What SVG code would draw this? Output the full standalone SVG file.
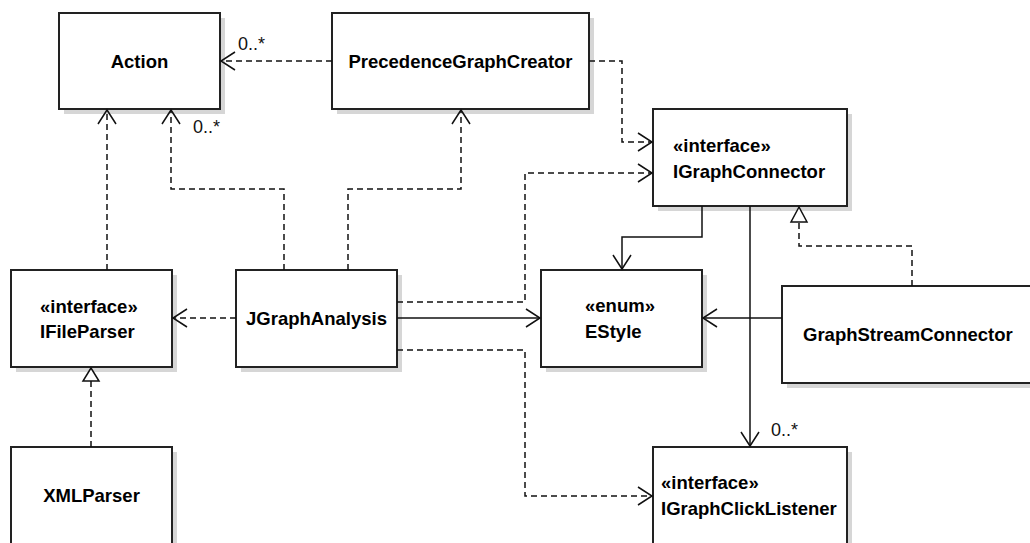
<svg xmlns="http://www.w3.org/2000/svg" width="1030" height="543" viewBox="0 0 1030 543">
<style>
.box{fill:#fff;stroke:#222;stroke-width:2}
.sh{fill:#d6d6d6}
.t{font-family:"Liberation Sans",Arial,sans-serif;font-size:18.5px;font-weight:bold;fill:#000}
.lbl{font-family:"Liberation Sans",Arial,sans-serif;font-size:18px;fill:#111}
.ln{fill:none;stroke:#111;stroke-width:1.5}
.dash{stroke-dasharray:6,4}
.ah{fill:none;stroke:#111;stroke-width:1.5}
.tri{fill:#fff;stroke:#111;stroke-width:1.5}
</style>
<rect width="1030" height="543" fill="#fff"/>
<g id="Action"><rect class="sh" x="64" y="18" width="161" height="96"/><rect class="box" x="59" y="13" width="161" height="96"/><text class="t" x="139.5" y="68" text-anchor="middle">Action</text></g>
<g id="PrecedenceGraphCreator"><rect class="sh" x="337" y="18" width="257" height="96"/><rect class="box" x="332" y="13" width="257" height="96"/><text class="t" x="460.5" y="68" text-anchor="middle">PrecedenceGraphCreator</text></g>
<g id="IGraphConnector"><rect class="sh" x="658" y="114" width="194" height="97"/><rect class="box" x="653" y="109" width="194" height="97"/><text class="t" x="673" y="152">«interface»</text><text class="t" x="673" y="178">IGraphConnector</text></g>
<g id="IFileParser"><rect class="sh" x="16" y="275" width="161" height="97"/><rect class="box" x="11" y="270" width="161" height="97"/><text class="t" x="40" y="313">«interface»</text><text class="t" x="40" y="338">IFileParser</text></g>
<g id="JGraphAnalysis"><rect class="sh" x="241" y="275" width="161" height="97"/><rect class="box" x="236" y="270" width="161" height="97"/><text class="t" x="316.5" y="325" text-anchor="middle">JGraphAnalysis</text></g>
<g id="EStyle"><rect class="sh" x="546" y="275" width="161" height="97"/><rect class="box" x="541" y="270" width="161" height="97"/><text class="t" x="585" y="312">«enum»</text><text class="t" x="585" y="338">EStyle</text></g>
<g id="GraphStreamConnector"><rect class="sh" x="787" y="291" width="260" height="97"/><rect class="box" x="782" y="286" width="260" height="97"/><text class="t" x="803" y="341">GraphStreamConnector</text></g>
<g id="XMLParser"><rect class="sh" x="16" y="452" width="161" height="97"/><rect class="box" x="11" y="447" width="161" height="97"/><text class="t" x="91.5" y="502" text-anchor="middle">XMLParser</text></g>
<g id="IGraphClickListener"><rect class="sh" x="658" y="452" width="194" height="97"/><rect class="box" x="653" y="447" width="194" height="97"/><text class="t" x="661" y="489">«interface»</text><text class="t" x="661" y="515">IGraphClickListener</text></g>
<g id="connectors">
<!-- PGC -> Action -->
<path class="ln dash" d="M332,61 H221"/><path class="ah" d="M235,52 L221,61 L235,70"/>
<text class="lbl" x="238" y="50">0..*</text>
<!-- JGA -> Action -->
<path class="ln dash" d="M284,270 V189 H171 V110"/><path class="ah" d="M162,124 L171,110 L180,124"/>
<text class="lbl" x="193" y="133">0..*</text>
<!-- IFileParser -> Action -->
<path class="ln dash" d="M107,270 V110"/><path class="ah" d="M98,124 L107,110 L116,124"/>
<!-- JGA -> PGC -->
<path class="ln dash" d="M348,270 V189 H461 V110"/><path class="ah" d="M452,124 L461,110 L470,124"/>
<!-- PGC -> IGraphConnector -->
<path class="ln dash" d="M589,61 H622 V142 H652"/><path class="ah" d="M638,133 L652,142 L638,151"/>
<!-- JGA -> IGraphConnector -->
<path class="ln dash" d="M397,302 H525 V173 H652"/><path class="ah" d="M638,164 L652,173 L638,182"/>
<!-- JGA -> EStyle -->
<path class="ln" d="M397,318 H540"/><path class="ah" d="M526,309 L540,318 L526,327"/>
<!-- JGA -> IGraphClickListener -->
<path class="ln dash" d="M397,350 H525 V496 H652"/><path class="ah" d="M638,487 L652,496 L638,505"/>
<!-- JGA -> IFileParser -->
<path class="ln dash" d="M236,318 H173"/><path class="ah" d="M187,309 L173,318 L187,327"/>
<!-- XMLParser realizes IFileParser -->
<path class="ln dash" d="M91,447 V381"/><path class="tri" d="M91,368 L83,381 L99,381 Z"/>
<!-- IGraphConnector -> EStyle -->
<path class="ln" d="M702,206 V237 H622 V269"/><path class="ah" d="M613,255 L622,269 L631,255"/>
<!-- IGraphConnector -> IGraphClickListener -->
<path class="ln" d="M750,206 V446"/><path class="ah" d="M741,432 L750,446 L759,432"/>
<text class="lbl" x="771" y="436">0..*</text>
<!-- GSC -> EStyle -->
<path class="ln" d="M782,318 H703"/><path class="ah" d="M717,309 L703,318 L717,327"/>
<!-- GSC realizes IGraphConnector -->
<path class="ln dash" d="M912,286 V246 H799 V222"/><path class="tri" d="M799,207 L791,222 L807,222 Z"/>
</g>
</svg>
